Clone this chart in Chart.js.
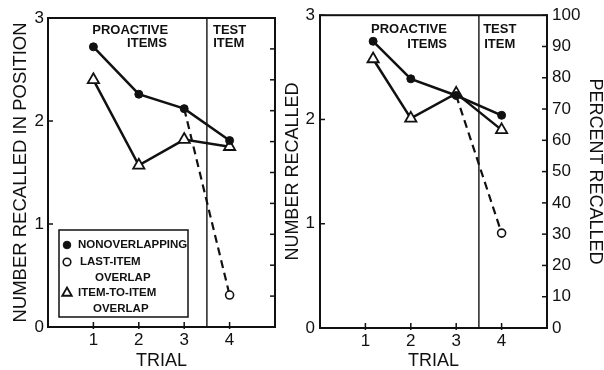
<!DOCTYPE html>
<html><head><meta charset="utf-8">
<script src="https://cdn.jsdelivr.net/npm/chart.js@4.4.1/dist/chart.umd.min.js"></script>
<style>
html,body{margin:0;padding:0;background:#fff;width:604px;height:370px;overflow:hidden}
#c1{position:absolute;left:0;top:0}
#c2{position:absolute;left:284px;top:0}
</style></head><body>
<canvas id="c1" width="300" height="370"></canvas>
<canvas id="c2" width="320" height="370"></canvas>
<script>
// ---- data ----
const trialTicks = [1, 2, 3, 4];
const seriesNames = ['NONOVERLAPPING', 'LAST-ITEM OVERLAP', 'ITEM-TO-ITEM OVERLAP'];
const legendLines = [['NONOVERLAPPING'], ['LAST-ITEM', 'OVERLAP'], ['ITEM-TO-ITEM', 'OVERLAP']];

const leftTrials = [1, 2, 3, 4];
const leftNonoverlapping = [2.72, 2.26, 2.12, 1.81];
const leftLastItem = [null, null, 2.12, 0.31];
const leftItemToItem = [2.40, 1.57, 1.82, 1.75];

const rightTrials = [1.17, 2, 3, 4];
const rightNonoverlapping = [2.75, 2.39, 2.23, 2.04];
const rightLastItem = [null, null, 2.23, 0.91];
const rightItemToItem = [2.58, 2.01, 2.25, 1.90];

const numberRange = [0, 3];
const percentRange = [0, 100];
const trialRange = [0, 5];
const phaseBoundary = 3.5;

// ---- helpers ----
const FONT = '"Liberation Sans", Arial, sans-serif';
const INK = '#111';
function pts(xs, ys) {
  return xs.map((x, i) => ({x: x, y: ys[i]})).filter(p => p.y !== null);
}
function datasets(xs, non, last, item) {
  return [
    {label: seriesNames[0], data: pts(xs, non), borderColor: INK, backgroundColor: INK,
     borderWidth: 2.5, pointStyle: 'circle', pointRadius: 4, pointBorderWidth: 1, pointBackgroundColor: INK, pointBorderColor: INK},
    {label: seriesNames[1], data: pts(xs, last), borderColor: INK, backgroundColor: '#fff',
     borderWidth: 2.2, borderDash: [8, 5], pointStyle: 'circle',
     pointRadius: c => c.dataIndex === 0 ? 0 : 4, pointBorderWidth: 1.6, pointBackgroundColor: '#fff', pointBorderColor: INK},
    {label: seriesNames[2], data: pts(xs, item), borderColor: INK, backgroundColor: '#fff',
     borderWidth: 2.5, pointStyle: 'triangle', pointRadius: 6.5, pointBorderWidth: 1.8, pointBackgroundColor: '#fff', pointBorderColor: INK}
  ];
}

const framePlugin = {
  id: 'frame',
  afterDraw(chart, args, o) {
    const {ctx, chartArea: a, scales} = chart;
    const line = (x1, y1, x2, y2) => { ctx.beginPath(); ctx.moveTo(x1, y1); ctx.lineTo(x2, y2); ctx.stroke(); };
    ctx.save();
    ctx.strokeStyle = INK; ctx.fillStyle = INK;
    // phase divider
    ctx.lineWidth = 1.4;
    const xd = scales.x.getPixelForValue(phaseBoundary);
    line(xd, a.top, xd, a.bottom);
    // tick marks
    ctx.lineWidth = 1.5;
    scales.x.ticks.forEach(t => {
      if (!trialTicks.includes(t.value)) return;
      const px = scales.x.getPixelForValue(t.value);
      line(px, a.bottom + 2, px, a.bottom - 5);
    });
    scales.y.ticks.forEach(t => {
      const py = scales.y.getPixelForValue(t.value);
      line(a.left - 1, py, a.left + 5, py);
    });
    scales.y2.ticks.forEach(t => {
      const py = scales.y2.getPixelForValue(t.value);
      line(a.right + 1, py, a.right - 5, py);
    });
    // frame
    ctx.lineWidth = 2;
    ctx.strokeRect(a.left, a.top, a.right - a.left, a.bottom - a.top);
    // notes
    ctx.font = 'bold 13px ' + FONT;
    ctx.textAlign = 'center'; ctx.textBaseline = 'middle';
    o.notes.forEach(n => ctx.fillText(n.text, scales.x.getPixelForValue(n.x), scales.y.getPixelForValue(n.y)));
    // legend box
    if (o.legend) {
      const L = o.legend;
      const bx = a.left + L.dx, by = L.top, bw = L.w, bh = L.h;
      ctx.lineWidth = 1.5;
      ctx.strokeRect(bx, by, bw, bh);
      chart.data.datasets.forEach((ds, i) => {
        const row = L.rows[i];
        ctx.fillStyle = ds.pointBackgroundColor;
        ctx.strokeStyle = INK;
        ctx.lineWidth = ds.pointBorderWidth;
        Chart.helpers.drawPoint(ctx, {pointStyle: ds.pointStyle, radius: ds.pointStyle === 'triangle' ? 5.5 : 3.8,
          borderWidth: ds.pointBorderWidth}, bx + 8, by + row.dy);
        ctx.fillStyle = INK;
        ctx.font = 'bold 11.5px ' + FONT;
        ctx.textAlign = 'left'; ctx.textBaseline = 'middle';
        legendLines[i].forEach((txt, k) => {
          ctx.fillText(txt, bx + row.tx[k], by + row.dy + k * 15.5);
        });
      });
    }
    ctx.restore();
  }
};

function makeChart(id, xs, non, last, item, cfg) {
  return new Chart(document.getElementById(id), {
    type: 'line',
    data: {datasets: datasets(xs, non, last, item)},
    plugins: [framePlugin],
    options: {
      responsive: false, animation: false, devicePixelRatio: 1,
      layout: {padding: cfg.padding},
      plugins: {legend: {display: false}, tooltip: {enabled: false}, frame: cfg.frame},
      elements: {line: {tension: 0}},
      scales: {
        x: {type: 'linear', min: trialRange[0], max: trialRange[1],
            grid: {display: false, drawTicks: false}, border: {display: false},
            ticks: {stepSize: 1, color: INK, padding: 3, font: {family: FONT, size: 17},
                    callback: v => trialTicks.includes(v) ? String(v) : ''},
            title: {display: true, text: 'TRIAL', color: INK, padding: {top: 0, bottom: 0},
                    font: {family: FONT, size: 18, lineHeight: 1}},
            afterFit: s => { s.height = cfg.xHeight; }},
        y: {type: 'linear', position: 'left', min: numberRange[0], max: numberRange[1],
            grid: {display: false, drawTicks: false}, border: {display: false},
            ticks: {stepSize: 1, color: INK, padding: cfg.yPad, font: {family: FONT, size: 17}},
            title: {display: true, text: cfg.yTitle, color: INK, padding: {top: cfg.yTitlePad, bottom: 0},
                    font: {family: FONT, size: cfg.yTitleSize, lineHeight: 1}},
            afterFit: s => { s.width = cfg.yWidth; }},
        y2: {type: 'linear', position: 'right', min: percentRange[0], max: percentRange[1],
             display: cfg.y2Display,
             grid: {display: false, drawTicks: false}, border: {display: false},
             ticks: {stepSize: 10, color: INK, padding: 5, font: {family: FONT, size: 17}},
             title: {display: true, text: 'PERCENT RECALLED', color: INK, padding: {top: 0, bottom: 11},
                     font: {family: FONT, size: 18, lineHeight: 1}},
             afterFit: s => { s.width = cfg.y2Width; }}
      }
    }
  });
}

makeChart('c1', leftTrials, leftNonoverlapping, leftLastItem, leftItemToItem, {
  padding: {top: 18, right: 25, bottom: 0, left: 0},
  xHeight: 43, yWidth: 48, yPad: 4, yTitle: 'NUMBER RECALLED IN POSITION', yTitleSize: 18.5, yTitlePad: 12,
  y2Display: false, y2Width: 0,
  frame: {
    notes: [{text: 'PROACTIVE', x: 1.81, y: 2.88}, {text: 'ITEMS', x: 2.18, y: 2.755},
            {text: 'TEST', x: 4.0, y: 2.88}, {text: 'ITEM', x: 3.98, y: 2.755}],
    legend: {dx: 11, top: 230, w: 129, h: 87,
      rows: [{dy: 15, tx: [19]}, {dy: 32, tx: [21, 36]}, {dy: 63, tx: [19, 34]}]}
  }
});

makeChart('c2', rightTrials, rightNonoverlapping, rightLastItem, rightItemToItem, {
  padding: {top: 15, right: 0, bottom: 0, left: 0},
  xHeight: 42, yWidth: 36, yPad: 5, yTitle: 'NUMBER RECALLED', yTitleSize: 18, yTitlePad: 0,
  y2Display: true, y2Width: 57,
  frame: {
    notes: [{text: 'PROACTIVE', x: 1.96, y: 2.86}, {text: 'ITEMS', x: 2.36, y: 2.72},
            {text: 'TEST', x: 3.96, y: 2.86}, {text: 'ITEM', x: 3.96, y: 2.72}],
    legend: null
  }
});
</script>
</body></html>
